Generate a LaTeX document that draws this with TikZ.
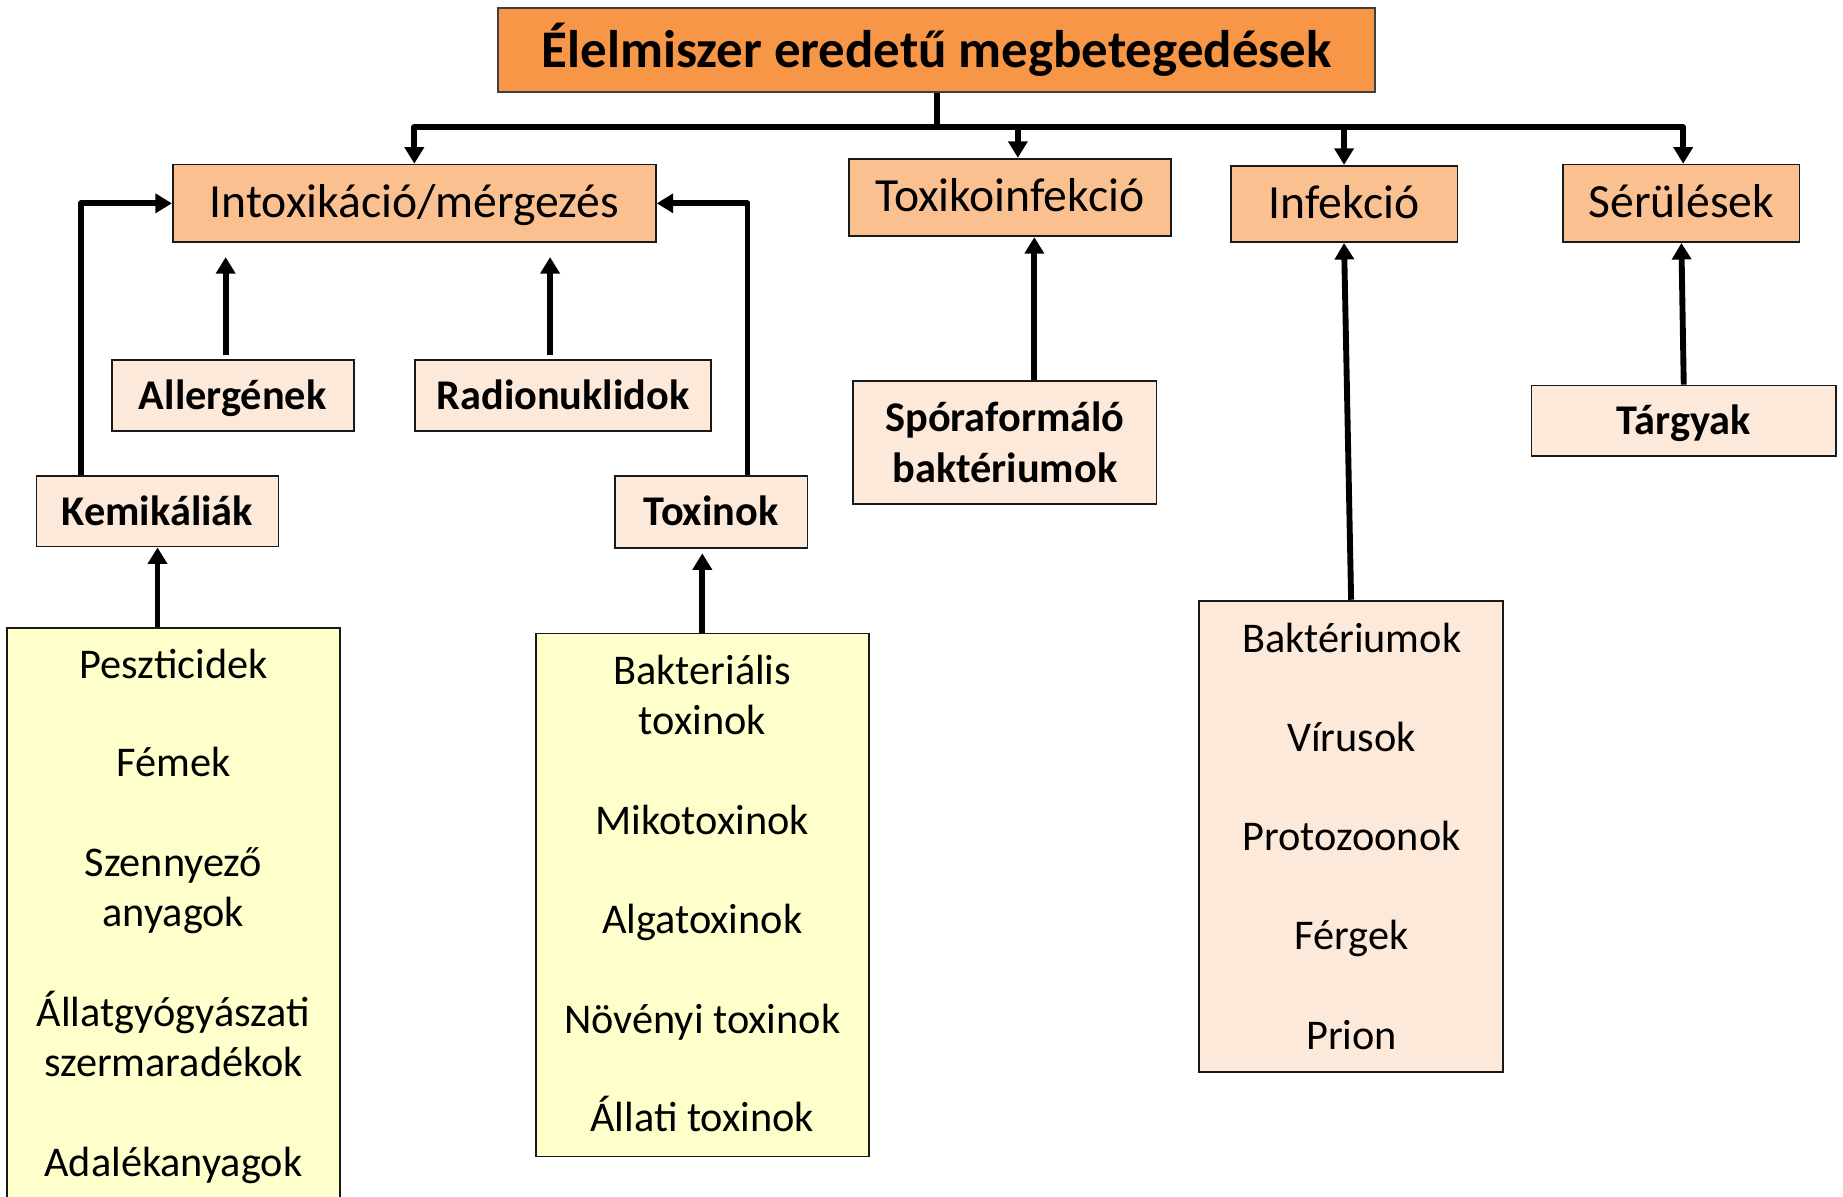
\documentclass[tikz,border=0pt]{standalone}
\usepackage{fontspec}
\setmainfont{Carlito}
\usetikzlibrary{arrows.meta}
\definecolor{ttlor}{HTML}{F79646}
\definecolor{lvone}{HTML}{FAC090}
\definecolor{peach}{HTML}{FDE9D9}
\definecolor{ylw}{HTML}{FFFFCC}
\newcommand\fttl{\fontsize{45}{54}\selectfont\bfseries}
\newcommand\fone{\fontsize{40.5}{48}\selectfont}
\newcommand\fbld{\fontsize{36}{43}\selectfont\bfseries}
\newcommand\flst{\fontsize{36}{43}\selectfont}
\begin{document}
\begin{tikzpicture}[x=1pt,y=-1pt,
  box/.style={draw=black!90, line width=1.5pt, inner sep=0pt, anchor=center},
  lone/.style={box, fill=lvone, font=\fone, text height=31pt, text depth=7pt},
  ltwo/.style={box, fill=peach, font=\fbld, text height=30pt, text depth=6pt},
  ln/.style={line width=5pt, line join=round},
  arr/.style={ln, -{Triangle[length=14pt,width=16pt]}},
  lst/.style={anchor=base, inner sep=0pt, font=\flst}]
\useasboundingbox (0,0) rectangle (1568,1018);
\clip (0,0) rectangle (1568,1018);
% boxes
\node[box, fill=ttlor, draw=black!75, minimum width=746pt, minimum height=71pt, font=\fttl] (title) at (797,42.5) {Élelmiszer eredetű megbetegedések};
\node[lone, minimum width=411pt, minimum height=66pt] (intox) at (352.5,173) {Intoxikáció/mérgezés};
\node[lone, minimum width=274pt, minimum height=66pt] (toxiko) at (859,168) {Toxikoinfekció};
\node[lone, minimum width=193pt, minimum height=65pt] (infek) at (1143.5,173.5) {Infekció};
\node[lone, minimum width=201pt, minimum height=66pt] (serul) at (1430.5,173) {Sérülések};
\node[ltwo, minimum width=206pt, minimum height=61pt] (allerg) at (198,336.5) {Allergének};
\node[ltwo, minimum width=252pt, minimum height=61pt] (radio) at (479,336.5) {Radionuklidok};
\node[ltwo, minimum width=206pt, minimum height=60pt] (kemik) at (134,435) {Kemikáliák};
\node[ltwo, minimum width=164pt, minimum height=61pt] (toxin) at (605,435.5) {Toxinok};
\node[box, fill=peach, minimum width=258pt, minimum height=105pt, font=\fbld, align=center] (spora) at (855,376.5) {Spóraformáló\\baktériumok};
\node[ltwo, minimum width=259pt, minimum height=60pt] (targy) at (1432.5,358) {Tárgyak};
\node[box, fill=peach, minimum width=259pt, minimum height=401pt] (inflist) at (1149.5,711.5) {};
\node[box, fill=ylw, minimum width=283pt, minimum height=496pt] (kemlist) at (147.5,782) {};
\node[box, fill=ylw, minimum width=283pt, minimum height=445pt] (toxlist) at (597.5,761.5) {};
% list texts
\node[lst] (k1) at (147.5,577) {Peszticidek};
\node[lst] (k2) at (147.5,661) {Fémek};
\node[lst] (k3) at (147.5,746) {Szennyező};
\node[lst] (k4) at (147.5,788) {anyagok};
\node[lst] (k5) at (147.5,873) {Állatgyógyászati};
\node[lst] (k6) at (147.5,916) {szermaradékok};
\node[lst] (k7) at (147.5,1001) {Adalékanyagok};
\node[lst] (t1) at (597.5,582) {Bakteriális};
\node[lst] (t2) at (597.5,625) {toxinok};
\node[lst] (t3) at (597.5,710) {Mikotoxinok};
\node[lst] (t4) at (597.5,794) {Algatoxinok};
\node[lst] (t5) at (597.5,879) {Növényi toxinok};
\node[lst] (t6) at (597.5,963) {Állati toxinok};
\node[lst] (i1) at (1150,555) {Baktériumok};
\node[lst] (i2) at (1150,639) {Vírusok};
\node[lst] (i3) at (1150,724) {Protozoonok};
\node[lst] (i4) at (1150,808) {Férgek};
\node[lst] (i5) at (1150,893) {Prion};
% helper coordinates
\coordinate (barc) at (797,108);
\coordinate (kx) at (69,0);
\coordinate (tx) at (636,0);
\coordinate (sx) at (880,0);
\coordinate (ax) at (192,0);
\coordinate (rx) at (468,0);
\coordinate (toxx) at (866,0);
\coordinate (serx) at (1432,0);
% connectors
\draw[ln] (title.south) -- (barc);
\draw[arr] (barc) -| (intox.north);
\draw[arr] (barc) -| (serul.north -| serx);
\draw[arr] (barc -| toxx) -- (toxiko.north -| toxx);
\draw[arr] (barc -| infek.north) -- (infek.north);
\draw[arr] ([yshift=3pt]allerg.north -| ax) -- ([yshift=-12pt]intox.south -| ax);
\draw[arr] ([yshift=3pt]radio.north -| rx) -- ([yshift=-12pt]intox.south -| rx);
\draw[arr] (kemik.north -| kx) |- (intox.west);
\draw[arr] (toxin.north -| tx) |- (intox.east);
\draw[arr] (spora.north -| sx) -- (toxiko.south -| sx);
\draw[arr] (inflist.north) -- (infek.south);
\draw[arr] (targy.north) -- (serul.south);
\draw[arr] (kemlist.north -| kemik.south) -- (kemik.south);
\draw[arr] (toxlist.north) -- ([yshift=-4pt]toxlist.north |- toxin.south);
\end{tikzpicture}
\end{document}
